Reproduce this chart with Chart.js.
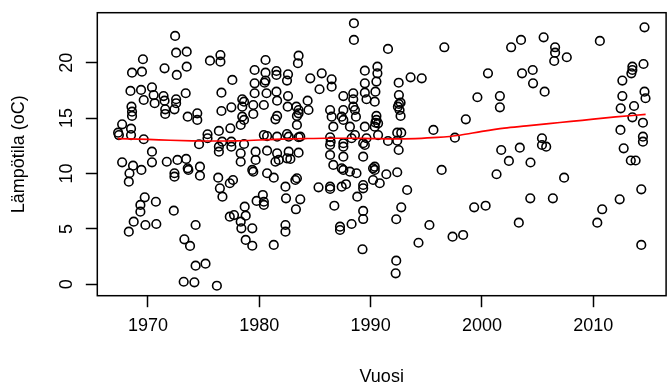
<!DOCTYPE html>
<html>
<head>
<meta charset="utf-8">
<script src="https://cdn.jsdelivr.net/npm/chart.js@4/dist/chart.umd.min.js"></script>
<style>
html,body{margin:0;padding:0;background:#fff;overflow:hidden;}
#wrap{width:672px;height:385px;}
</style>
</head>
<body>
<div id="wrap"><canvas id="c" width="672" height="385"></canvas></div>
<script>
const years = [
1972.44,1972.53,1973.48,1969.55,1968.57,1969.46,1971.49,1972.59,1973.48,1975.57,1976.51,1976.51,1977.58,
1968.43,1969.38,1970.36,1969.62,1970.51,1970.60,1971.40,1971.49,1972.53,1972.53,1973.39,1976.60,
1968.52,1968.57,1968.57,1971.55,1971.55,1972.38,1973.57,1974.43,1974.43,1976.60,1977.49,
1967.68,1967.32,1967.39,1968.48,1968.48,1969.62,1970.36,1974.59,1975.35,1975.35,1976.37,1976.37,1976.37,1976.66,1977.40,1977.49,1977.49,
1967.68,1968.66,1968.34,1968.28,1969.41,1970.36,1971.69,1972.65,1973.43,1973.57,1973.63,1974.67,1974.67,1972.38,1972.38,
1976.31,1976.46,1976.69,1977.35,1977.64,1977.35,1977.73,1969.71,1969.32,1969.32,1970.71,1972.32,1968.72,1968.28,1969.77,1970.75,
1974.28,1973.27,1973.78,1974.28,1975.17,1973.21,1974.17,1976.19,
1988.50,1988.50,1980.56,1983.53,1983.47,1979.58,1980.56,1981.54,1981.54,1982.58,1982.49,1984.58,1985.61,1986.50,1986.50,1985.41,
1989.48,1989.48,1980.56,1980.47,1979.58,1979.58,1978.47,1978.63,1980.65,1981.54,1982.58,1981.60,1982.55,1984.34,1983.33,1983.53,
1984.42,1980.41,1979.46,1978.47,1987.55,1988.44,1988.44,1989.48,1989.63,1987.55,1988.44,1988.59,1988.68,1986.36,1986.50,1987.40,
1987.55,1978.47,1978.63,1978.33,1979.46,1981.60,1981.45,1983.38,1983.53,1983.38,1986.65,1988.14,1989.48,1988.59,1980.41,1980.70,
1981.60,1982.49,1982.64,1983.53,1983.68,1986.36,1986.41,1986.36,1987.55,1987.55,1989.33,1989.48,1988.29,1989.63,1978.63,1978.33,
1979.67,1980.70,1981.60,1982.64,1983.53,1986.36,1987.55,1989.33,1978.33,1979.67,1979.37,1979.46,1980.70,1981.30,1981.45,1981.75,
1982.49,1982.79,1986.65,1987.40,1987.55,1988.14,1988.73,1990.22,1990.22,1983.38,1983.24,1982.35,1985.32,1986.36,1986.36,1987.40,
1987.79,1989.33,1989.33,1988.80,1980.32,1979.76,1980.41,1980.41,1982.40,1983.68,1983.29,1986.74,1978.69,1978.78,1978.33,1978.39,
1979.37,1982.35,1982.35,1987.25,1987.25,1988.29,1989.33,1989.33,1978.78,1979.37,1981.30,1989.27,
1991.56,1996.62,2002.62,1990.61,1990.61,1990.52,1990.43,1990.37,1992.52,1993.59,1994.59,1992.54,1992.54,1992.45,1992.69,1992.60,
1992.69,2000.54,1999.59,2001.61,2001.61,1998.55,1990.52,1990.52,1990.43,1990.67,1990.37,1990.67,1991.56,1992.39,1992.75,1992.39,
1992.52,1995.64,1997.57,2001.73,1990.37,1990.37,1990.82,1991.41,1992.39,1996.38,2001.31,2002.42,1993.28,1992.75,1992.30,1995.28,
1994.30,1997.36,1998.31,1999.30,2000.33,1992.30,1992.25,
2014.60,2010.59,2003.51,2005.54,2006.57,2006.57,2006.49,2007.62,2003.60,2004.56,2004.59,2005.63,2013.51,2013.51,2013.42,2014.51,
2012.61,2012.61,2012.46,2013.66,2014.60,2014.69,2013.51,2014.46,2012.44,2014.46,2014.46,2012.73,2005.39,2005.39,2005.77,2003.40,
2013.37,2013.80,2004.36,2007.38,2004.34,2006.37,2003.31,2014.31,2012.37,2010.80,2010.36,2014.31
];
const temps = [
22.41,20.90,20.99,20.31,19.10,19.19,19.49,18.89,19.64,20.18,20.69,20.09,18.44,
17.45,17.54,17.78,16.63,17.08,16.34,16.99,16.57,16.70,16.34,17.24,17.29,
16.03,15.58,15.19,15.79,15.37,15.79,15.13,15.43,14.83,15.64,15.97,
14.44,13.68,13.47,14.04,13.47,13.09,11.97,12.64,13.54,13.18,13.84,12.42,11.97,12.87,14.08,12.87,12.42,
11.01,10.70,10.02,9.26,10.32,11.01,11.06,11.22,11.31,10.47,10.32,10.61,9.80,10.02,9.71,
9.62,8.66,7.91,9.12,9.41,6.10,6.25,7.85,7.16,6.55,7.45,6.64,5.65,4.75,5.35,5.44,
5.35,4.06,3.46,1.68,1.86,0.23,0.18,-0.13,
23.56,22.05,20.24,20.63,19.95,19.34,19.10,19.25,18.89,18.95,18.38,18.59,19.04,18.50,17.83,17.60,
19.28,18.14,18.38,18.19,18.14,17.24,16.70,16.48,17.24,17.38,16.99,16.57,16.03,16.57,16.03,15.73,
15.73,16.18,16.18,16.03,16.99,17.24,16.70,17.29,16.70,15.73,16.03,15.73,15.13,15.73,15.13,15.13,
14.83,15.13,14.83,14.38,15.37,15.19,14.89,14.38,15.43,15.19,14.22,14.22,14.22,13.47,13.47,13.38,
13.32,13.56,13.32,13.27,13.32,13.27,12.87,12.57,12.73,12.42,12.73,12.57,13.18,13.18,12.66,11.82,
11.97,12.06,11.82,11.97,11.88,11.67,11.52,11.52,11.06,11.22,10.32,10.16,10.02,9.62,11.06,11.22,
11.37,11.31,10.77,10.47,10.32,10.16,10.02,10.47,9.41,9.57,9.41,8.81,8.75,8.81,8.60,8.81,
9.03,8.96,8.66,7.91,8.06,7.52,7.45,7.16,7.76,7.67,6.77,7.09,7.00,6.19,5.65,5.05,
5.05,5.35,4.75,5.20,4.90,5.44,6.62,5.89,4.00,3.48,3.55,3.16,
21.24,21.39,21.39,19.64,19.04,18.29,17.38,16.48,18.19,18.68,18.59,17.08,16.27,16.03,16.39,15.73,
15.19,19.04,16.88,16.99,15.97,14.89,15.19,14.83,14.58,14.53,14.22,13.47,12.93,13.68,13.68,12.96,
12.12,13.93,13.23,12.12,10.61,10.32,9.12,9.93,10.11,10.32,9.93,11.13,8.51,6.95,5.87,5.35,
3.75,4.30,4.45,6.95,7.09,2.13,0.99,
23.19,21.96,22.05,22.29,21.39,20.90,20.15,20.49,19.04,19.34,18.14,17.38,19.64,19.34,19.04,19.88,
18.38,16.99,15.88,16.09,17.38,16.79,15.07,14.58,13.93,13.32,12.87,12.27,13.18,12.57,12.42,12.33,
11.17,11.17,10.99,9.62,7.76,7.76,5.56,8.57,7.67,6.77,5.56,3.55
];
const trendYears = [1967.3,1970,1972,1974,1976,1978,1980,1982,1984,1986,1988,1990,1992,1994,1996,1998,2000,2002,2004,2006,2008,2010,2012,2014.7];
const trendTemps = [13.15,13.08,13.0,12.95,12.93,12.95,13.02,13.1,13.15,13.18,13.18,13.15,13.12,13.15,13.25,13.45,13.8,14.1,14.3,14.5,14.7,14.9,15.1,15.33];
const xTicks = [1970,1980,1990,2000,2010];
const yTicks = [0,5,10,15,20];
const xLabel = 'Vuosi';
const yLabel = 'Lämpötila (oC)';

const FONT = '"Liberation Sans", Arial, sans-serif';
const points = years.map((x,i)=>({x:x, y:temps[i]}));
const trend = trendYears.map((x,i)=>({x:x, y:trendTemps[i]}));

const framePlugin = {
  id:'frame',
  afterDraw(chart){
    const ctx = chart.ctx, a = chart.chartArea, y = chart.scales.y;
    ctx.save();
    ctx.strokeStyle = '#000';
    ctx.lineWidth = 1.5;
    ctx.strokeRect(a.left, a.top, a.right - a.left, a.bottom - a.top);
    ctx.fillStyle = '#000';
    ctx.font = '18px ' + FONT;
    ctx.textAlign = 'center';
    ctx.textBaseline = 'alphabetic';
    y.ticks.forEach(t => {
      const py = y.getPixelForValue(t.value);
      ctx.save();
      ctx.translate(72, py);
      ctx.rotate(-Math.PI/2);
      ctx.fillText(String(t.value), 0, 0);
      ctx.restore();
    });
    ctx.restore();
  }
};

const gridOpts = {drawOnChartArea:false, drawTicks:true, tickLength:11.5, tickColor:'#000', tickWidth:1.5};

new Chart(document.getElementById('c'), {
  type:'scatter',
  data:{
    datasets:[
      {data:trend, showLine:true, borderColor:'#ff0000', borderWidth:1.7, pointRadius:0, cubicInterpolationMode:'monotone', fill:false},
      {data:points, pointStyle:'circle', pointRadius:4.3, pointBorderWidth:1.6, borderColor:'#000', backgroundColor:'rgba(0,0,0,0)', pointBackgroundColor:'rgba(0,0,0,0)', pointBorderColor:'#000'}
    ]
  },
  options:{
    responsive:false,
    devicePixelRatio:1,
    animation:false,
    events:[],
    layout:{padding:{left:0, right:2, top:12.7, bottom:0}},
    plugins:{legend:{display:false}, tooltip:{enabled:false}},
    scales:{
      x:{
        type:'linear', min:1965.45, max:2016.54,
        afterBuildTicks: s => { s.ticks = xTicks.map(v=>({value:v})); },
        afterFit: s => { s.height = 89.3; },
        grid:gridOpts,
        border:{display:false},
        ticks:{color:'#000', font:{family:FONT, size:18}, padding:8.5, maxRotation:0, minRotation:0, autoSkip:false, callback:v=>String(v)},
        title:{display:true, text:xLabel, color:'#000', font:{family:FONT, size:18}, padding:{top:0, bottom:-3}}
      },
      y:{
        type:'linear', min:-1.03, max:24.51,
        afterBuildTicks: s => { s.ticks = yTicks.map(v=>({value:v})); },
        afterFit: s => { s.width = 97.3; },
        grid:gridOpts,
        border:{display:false},
        ticks:{display:false},
        title:{display:true, text:yLabel, color:'#000', font:{family:FONT, size:18}, padding:{top:8, bottom:0}}
      }
    }
  },
  plugins:[framePlugin]
});
</script>
</body>
</html>
